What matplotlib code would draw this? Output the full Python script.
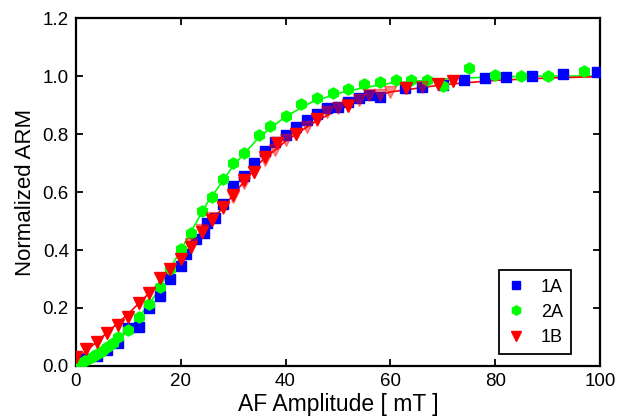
import matplotlib
matplotlib.use("Agg")
import matplotlib.pyplot as plt

plt.rcParams['font.family'] = ['Liberation Sans', 'DejaVu Sans']

# sample 1A
x_1a = [0, 1.5, 4, 6, 8, 10, 12, 14, 16, 18, 20, 21, 23, 24.5, 25, 26.5, 28, 30, 32, 34, 36,
        38, 40, 42, 44, 46, 48, 50, 52, 54, 56, 58, 62.8, 66, 70, 74, 78, 82, 87, 93, 99.4]
y_1a = [0.01, 0.025, 0.035, 0.055, 0.08, 0.13, 0.135, 0.2, 0.24, 0.30, 0.345, 0.385, 0.437,
        0.46, 0.494, 0.51, 0.56, 0.62, 0.655, 0.70, 0.742, 0.774, 0.797, 0.825, 0.848, 0.87,
        0.889, 0.894, 0.91, 0.923, 0.934, 0.929, 0.958, 0.963, 0.969, 0.986, 0.992, 0.998,
        1.0, 1.006, 1.015]

# sample 2A
x_2a = [0, 1, 2, 3, 4, 5, 6, 7, 8, 10, 12, 14, 16, 18, 20, 22, 24, 26, 28, 30, 32, 35, 37,
        40, 43, 46, 49, 52, 55, 58, 61, 64, 67, 70, 75, 80, 85, 90, 97]
y_2a = [0, 0.01, 0.02, 0.03, 0.04, 0.05, 0.065, 0.08, 0.10, 0.124, 0.168, 0.213, 0.274,
        0.333, 0.402, 0.458, 0.534, 0.584, 0.646, 0.699, 0.736, 0.795, 0.829, 0.863, 0.902,
        0.924, 0.943, 0.956, 0.971, 0.980, 0.986, 0.986, 0.986, 0.965, 1.026, 1.002, 0.999,
        1.0, 1.017]

# sample 1B
x_1b = [0, 2, 4, 6, 8, 10, 12, 14, 16, 18, 20, 22, 24, 26, 28, 30, 32, 34, 36, 38.3, 42, 46,
        52, 63, 69, 72]
y_1b = [0.032, 0.058, 0.084, 0.113, 0.141, 0.170, 0.216, 0.251, 0.302, 0.334, 0.368, 0.411,
        0.463, 0.503, 0.549, 0.59, 0.641, 0.670, 0.722, 0.768, 0.800, 0.852, 0.897, 0.958,
        0.971, 0.983]

# repeat run of 1B (drawn faded)
x_1b_rep = [22, 24, 26, 28, 30, 32, 34, 36, 38, 40, 42, 44, 46, 48, 50, 52, 54, 56, 58, 60, 66]
y_1b_rep = [0.42, 0.469, 0.509, 0.544, 0.584, 0.63, 0.67, 0.710, 0.745, 0.779, 0.80, 0.825,
            0.85, 0.877, 0.889, 0.90, 0.917, 0.934, 0.934, 0.946, 0.963]

# fitted curves
fit_x = [0, 5, 10, 15, 20, 25, 30, 35, 40, 45, 50, 55, 60, 70, 80, 90, 100]
fit_2a = [0, 0.05, 0.12, 0.24, 0.40, 0.56, 0.69, 0.79, 0.86, 0.91, 0.94, 0.96, 0.975, 0.99,
          0.997, 1.0, 1.0]
fit_1b = [0.02, 0.10, 0.18, 0.27, 0.37, 0.48, 0.59, 0.70, 0.775, 0.835, 0.885, 0.92, 0.945,
          0.97, 0.985, 0.993, 0.998]

fig = plt.figure(figsize=(6.17, 4.16), dpi=100)
ax = fig.add_axes([0.123, 0.1202, 0.8495, 0.8365])

ax.plot(fit_x, fit_2a, color='#00ff00', lw=1.2, zorder=2)
ax.plot(fit_x, fit_1b, color='#ff0000', lw=1.2, zorder=2)

ax.plot(x_1a, y_1a, 's', color='#0000ff', ms=7.5, mec='#0000ff', label='1A', zorder=3)
ax.plot(x_2a, y_2a, 'h', color='#00ff00', ms=8, mec='#00ff00', label='2A', zorder=4)
ax.plot(x_1b_rep, y_1b_rep, 'v', color='#ff0000', ms=8, alpha=0.45, zorder=4)
ax.plot(x_1b, y_1b, 'v', color='#ff0000', ms=8.5, mec='#ff0000', label='1B', zorder=5)

ax.set_xlim(0, 100)
ax.set_ylim(0, 1.2)
ax.set_xticks([0, 20, 40, 60, 80, 100])
ax.set_yticks([0, 0.2, 0.4, 0.6, 0.8, 1.0, 1.2])
ax.set_yticklabels(['0.0', '0.2', '0.4', '0.6', '0.8', '1.0', '1.2'])
ax.tick_params(direction='in', length=5, width=1.3, labelsize=13.5,
               top=True, right=True, pad=5)
for s in ax.spines.values():
    s.set_linewidth(1.6)

ax.set_xlabel('AF Amplitude [ mT ]', fontsize=16.5, labelpad=2)
ax.set_ylabel('Normalized ARM', fontsize=16, labelpad=5)

leg = ax.legend(loc='lower right', bbox_to_anchor=(0.945, 0.0345), borderaxespad=0,
                fontsize=13, fancybox=False, edgecolor='black', framealpha=1,
                handlelength=1.0, handletextpad=0.9, borderpad=0.45, labelspacing=0.45,
                markerscale=0.85)
leg.get_frame().set_linewidth(1.3)

fig.savefig('out.png', dpi=100)
